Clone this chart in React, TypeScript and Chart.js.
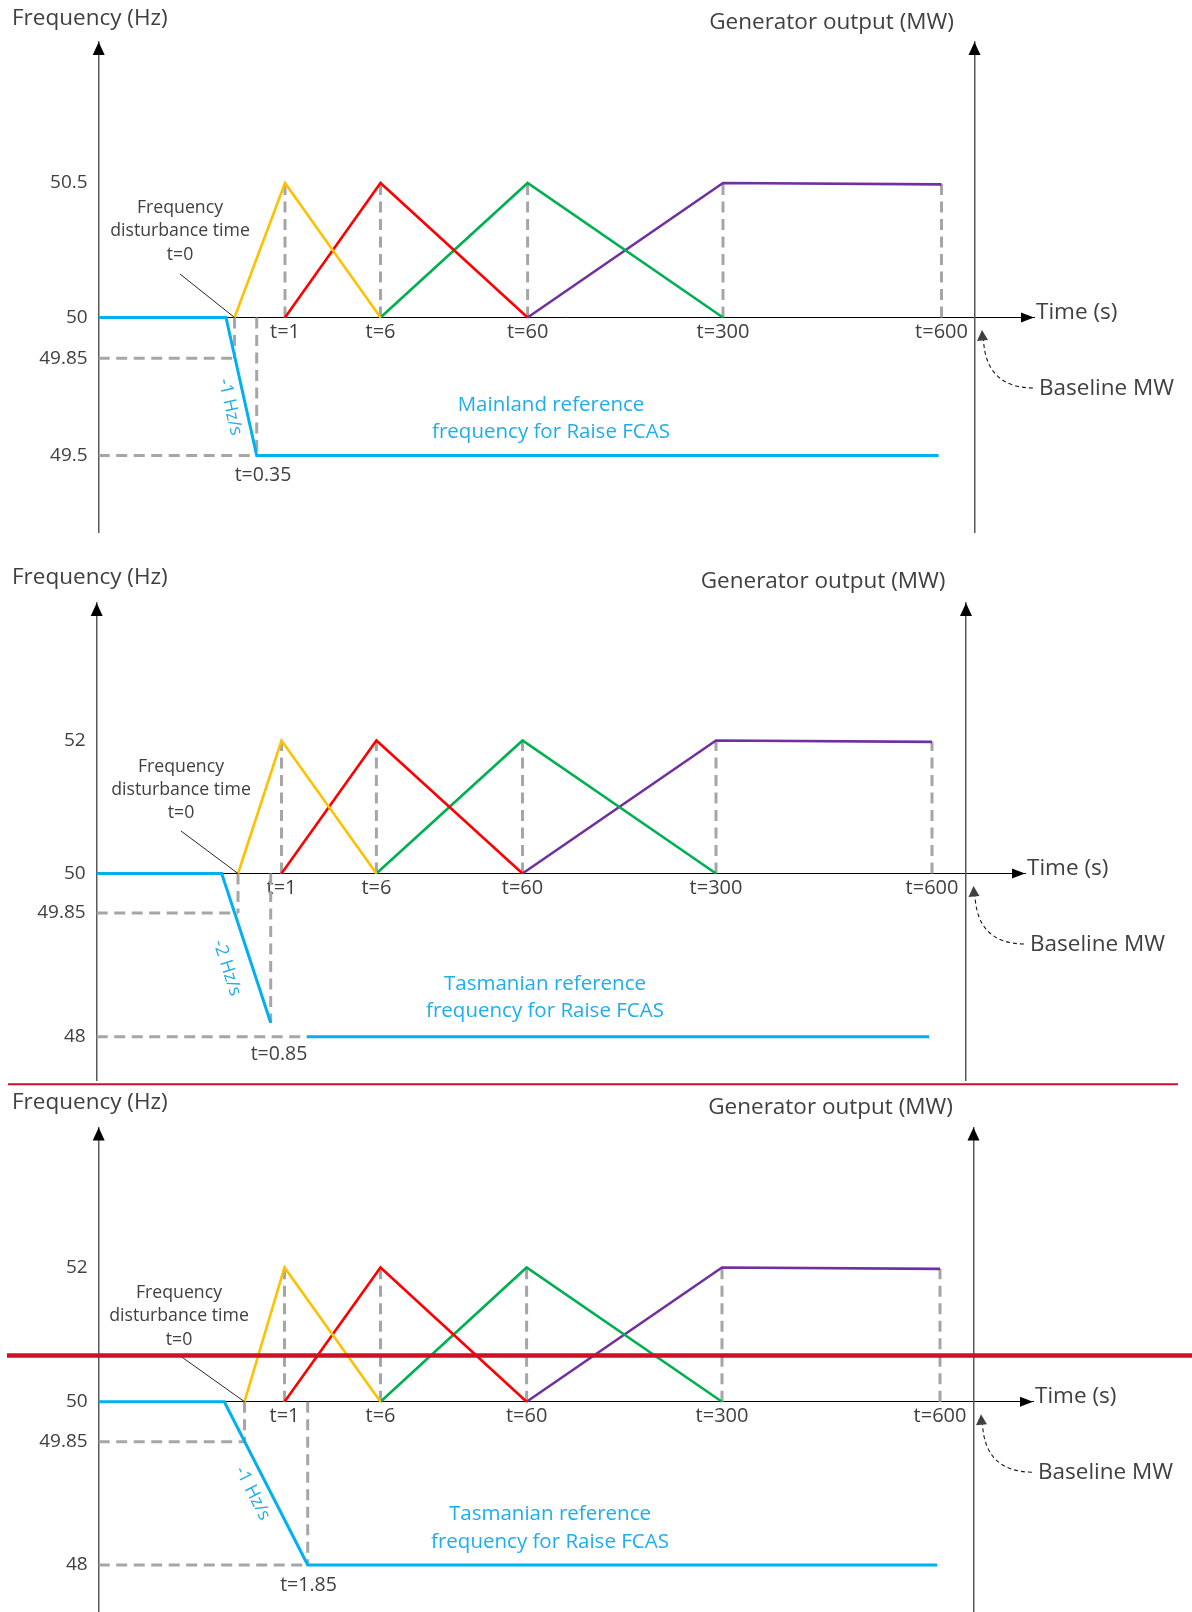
import React, { useEffect, useRef } from 'react';
import { Chart, registerables, LinearScale } from 'chart.js';

// ---------------- DATA ----------------
const nominalHz = 50;
const disturbanceTime = 0; // t=0
const triggerHz = 49.85; // frequency reached at t=0

const responseTimes = [1, 6, 60, 300, 600];
const responseLabels = ['t=1', 't=6', 't=60', 't=300', 't=600'];

// Generator output above baseline (0 = baseline MW, 1 = full raise response)
const veryFastTimes = [0, 1, 6];
const veryFastMW = [0, 1, 0];
const fastTimes = [1, 6, 60];
const fastMW = [0, 1, 0];
const slowTimes = [6, 60, 300];
const slowMW = [0, 1, 0];
const delayedTimes = [60, 300, 600];
const delayedMW = [0, 1, 0.99];

// Mainland reference frequency: -1 Hz/s down to 49.5 Hz
const mainlandTicks = [49.5, 49.85, 50, 50.5];
const mainlandTimes = [-1, -0.15, 0.35, 596];
const mainlandHz = [50, 50, 49.5, 49.5];
const mainlandEnd = [0.35, 49.5];
const mainlandFloor = [0.35, 49.5];

// Tasmanian reference frequency: -2 Hz/s down to 48 Hz
const tas2Ticks = [48, 49.85, 50, 52];
const tas2Times = [-1, -0.075, 0.85, 0.85, 2.33, 596];
const tas2Hz = [50, 50, 48.15, null, 48, 48];
const tas2End = [0.85, 48.15];
const tas2Floor = [2.33, 48];

// Tasmanian reference frequency: -1 Hz/s down to 48 Hz
const tas1Ticks = [48, 49.85, 50, 52];
const tas1Times = [-1, -0.15, 1.85, 596];
const tas1Hz = [50, 50, 48, 48];
const tas1End = [1.85, 48];
const tas1Floor = [1.85, 48];

// ---------------- STYLE / LAYOUT ----------------
const W = 1192;
const H = 1612;
const FONT = '"Open Sans", "Noto Sans", "DejaVu Sans", sans-serif';
const TEXT = '#404040';
const AXIS = '#595959';
const BLUE = '#00B0F0';
const BLUE_TEXT = '#1EAEEB';
const GUIDE = '#A6A6A6';
const RED_RULE = '#CE1126';
const mwAxisTime = 700;

const responseSeries = [
  { t: veryFastTimes, mw: veryFastMW, color: '#FFC000' },
  { t: fastTimes, mw: fastMW, color: '#FF0000' },
  { t: slowTimes, mw: slowMW, color: '#00B050' },
  { t: delayedTimes, mw: delayedMW, color: '#7030A0' },
];

const panels: any[] = [
  {
    times: mainlandTimes, hz: mainlandHz, ticks: mainlandTicks, end: mainlandEnd, floor: mainlandFloor,
    rateLabel: '-1 Hz/s', endLabel: 't=0.35', refLines: ['Mainland reference', 'frequency for Raise FCAS'],
    area: { left: 98.7, right: 1034, top: 42, bottom: 532 },
    xBreaks: [[-1, 98.7], [-0.15, 226], [0, 234.5], [0.35, 256.7], [1, 285], [6, 380.5], [60, 527.6], [300, 723], [600, 941.5], [700, 974.5], [800, 1034]],
    yBreaks: [[49.22, 532], [49.5, 455.5], [49.85, 358.2], [50, 317.5], [50.5, 183], [51.02, 42]],
    mwBreaks: [[0, 317.5], [1, 183]],
    titleY: 18.5, genY: 22.6,
    note: { x: 180, y: [208, 231, 254.5], from: [180, 274] },
    ref: { x: 551, y: [405, 432] },
    endAt: [263, 475],
    rate: { x: 230, y: 407, deg: 77.5 },
    rules: [],
  },
  {
    times: tas2Times, hz: tas2Hz, ticks: tas2Ticks, end: tas2End, floor: tas2Floor,
    rateLabel: '-2 Hz/s', endLabel: 't=0.85', refLines: ['Tasmanian reference', 'frequency for Raise FCAS'],
    area: { left: 96.7, right: 1025, top: 603, bottom: 1080 },
    xBreaks: [[-1, 96.7], [-0.075, 221.7], [0, 238], [0.85, 270.7], [1, 281.5], [6, 376.4], [60, 522.5], [300, 716], [600, 932], [700, 966], [800, 1025]],
    yBreaks: [[47.5, 1080], [48, 1036.7], [48.15, 1022.7], [49.85, 913], [50, 873.5], [52, 740.5], [54.07, 603]],
    mwBreaks: [[0, 873.5], [1, 740.5]],
    titleY: 578, genY: 582,
    note: { x: 181, y: [767, 790, 812.5], from: [181, 831] },
    ref: { x: 545, y: [984, 1011] },
    endAt: [279, 1054],
    rate: { x: 227, y: 968, deg: 72.3 },
    rules: [],
  },
  {
    times: tas1Times, hz: tas1Hz, ticks: tas1Ticks, end: tas1End, floor: tas1Floor,
    rateLabel: '-1 Hz/s', endLabel: 't=1.85', refLines: ['Tasmanian reference', 'frequency for Raise FCAS'],
    area: { left: 98.7, right: 1033, top: 1127.5, bottom: 1612 },
    xBreaks: [[-1, 98.7], [-0.15, 224.3], [0, 244.5], [1, 284.5], [1.85, 307.7], [6, 380.5], [60, 526.6], [300, 722], [600, 940], [700, 973.5], [800, 1033]],
    yBreaks: [[47.29, 1612], [48, 1565], [49.85, 1441.7], [50, 1401.7], [52, 1267.5], [54.1, 1127.5]],
    mwBreaks: [[0, 1401.7], [1, 1267.5]],
    titleY: 1102.5, genY: 1107.7,
    note: { x: 179, y: [1293, 1316, 1340], from: [181, 1356.5] },
    ref: { x: 550, y: [1514, 1541.7] },
    endAt: [308.5, 1585],
    rate: { x: 252.5, y: 1493.3, deg: 63 },
    rules: [
      { x1: 8, x2: 1178, y: 1084.3, w: 2 },
      { x1: 7, x2: 1192, y: 1355.5, w: 4.5 },
    ],
  },
];

// ---------------- SCHEMATIC (not-to-scale) AXIS ----------------
function mapThrough(bp: number[][], a: number, b: number, v: number) {
  const n = bp.length;
  const asc = bp[n - 1][a] > bp[0][a];
  let i = 1;
  while (i < n - 1 && (asc ? v > bp[i][a] : v < bp[i][a])) i++;
  const p = bp[i - 1];
  const q = bp[i];
  return p[b] + ((v - p[a]) * (q[b] - p[b])) / (q[a] - p[a]);
}

class SchematicScale extends LinearScale {
  static id = 'schematic';
  static defaults = {};
  getPixelForValue(value: any) {
    if (value === null || value === undefined || Number.isNaN(+value)) return NaN;
    return mapThrough((this.options as any).breaks, 0, 1, +value);
  }
  getValueForPixel(pixel: number) {
    return mapThrough((this.options as any).breaks, 1, 0, pixel);
  }
}

Chart.register(...registerables, SchematicScale);
Chart.defaults.font.family = FONT;

// ---------------- HELPERS ----------------
const pts = (xs: number[], ys: (number | null)[]) => xs.map((x, i) => ({ x, y: ys[i] }));

function txt(ctx: any, s: string, x: number, y: number, size: number, color: string, align = 'center') {
  ctx.font = `${size}px ${FONT}`;
  ctx.fillStyle = color;
  ctx.textAlign = align;
  ctx.textBaseline = 'middle';
  ctx.fillText(s, x, y);
}

function decor(p: any) {
  return {
    id: 'decor',
    afterDraw(chart: any) {
      const { ctx, chartArea: a, scales } = chart;
      const x = scales.x;
      const y = scales.y;
      const base = y.getPixelForValue(nominalHz);
      const mwX = x.getPixelForValue(mwAxisTime);
      const t0 = x.getPixelForValue(disturbanceTime);
      ctx.save();

      // arrowheads on the axes
      ctx.fillStyle = '#000';
      for (const ax of [a.left, mwX]) {
        ctx.beginPath();
        ctx.moveTo(ax, a.top);
        ctx.lineTo(ax - 6, a.top + 13);
        ctx.lineTo(ax + 6, a.top + 13);
        ctx.closePath();
        ctx.fill();
      }
      ctx.beginPath();
      ctx.moveTo(a.right, base);
      ctx.lineTo(a.right - 13, base - 5);
      ctx.lineTo(a.right - 13, base + 5);
      ctx.closePath();
      ctx.fill();

      // axis titles
      txt(ctx, 'Frequency (Hz)', 12, p.titleY, 22.5, TEXT, 'left');
      txt(ctx, 'Generator output (MW)', mwX - 20.5, p.genY, 22.5, TEXT, 'right');
      txt(ctx, 'Time (s)', a.right + 2, base - 5, 22.5, TEXT, 'left');
      txt(ctx, 'Baseline MW', a.right + 5, base + 71, 22.5, TEXT, 'left');

      // baseline MW pointer
      const tipX = mwX + 7.5;
      const tipY = base + 12.5;
      ctx.strokeStyle = '#1a1a1a';
      ctx.lineWidth = 1.1;
      ctx.setLineDash([4, 3]);
      ctx.beginPath();
      ctx.moveTo(a.right - 1, base + 70.5);
      ctx.quadraticCurveTo(tipX + 4, base + 70, tipX + 1.5, tipY + 10);
      ctx.stroke();
      ctx.setLineDash([]);
      ctx.beginPath();
      ctx.moveTo(tipX, tipY);
      ctx.lineTo(tipX - 5, tipY + 11);
      ctx.lineTo(tipX + 6, tipY + 10);
      ctx.closePath();
      ctx.fill();

      // disturbance note + leader
      const noteLines = ['Frequency', 'disturbance time', 't=0'];
      noteLines.forEach((s, i) => txt(ctx, s, p.note.x, p.note.y[i], 17.7, TEXT));
      ctx.strokeStyle = '#262626';
      ctx.lineWidth = 1;
      ctx.beginPath();
      ctx.moveTo(p.note.from[0], p.note.from[1]);
      ctx.lineTo(t0, base);
      ctx.stroke();

      // reference description
      p.refLines.forEach((s: string, i: number) => txt(ctx, s, p.ref.x, p.ref.y[i], 20.5, BLUE_TEXT));

      // end-of-ramp time label
      txt(ctx, p.endLabel, p.endAt[0], p.endAt[1], 19.5, TEXT);

      // rate of change label along the ramp
      ctx.save();
      ctx.translate(p.rate.x, p.rate.y);
      ctx.rotate((p.rate.deg * Math.PI) / 180);
      txt(ctx, p.rateLabel, 0, 0, 18, BLUE_TEXT);
      ctx.restore();

      // red rules
      for (const r of p.rules) {
        ctx.strokeStyle = RED_RULE;
        ctx.lineWidth = r.w;
        ctx.beginPath();
        ctx.moveTo(r.x1, r.y);
        ctx.lineTo(r.x2, r.y);
        ctx.stroke();
      }
      ctx.restore();
    },
  };
}

function buildConfig(p: any): any {
  const xMin = p.xBreaks[0][0];
  const xMax = p.xBreaks[p.xBreaks.length - 1][0];
  const yMin = p.yBreaks[0][0];
  const yMax = p.yBreaks[p.yBreaks.length - 1][0];

  const peakAt = (t: number) =>
    Math.max(...responseSeries.map((s) => {
      const i = s.t.indexOf(t);
      return i >= 0 ? s.mw[i] : 0;
    }));

  const line = (data: any[], color: string, width: number, extra: any = {}) => ({
    data, borderColor: color, borderWidth: width, pointRadius: 0, pointHoverRadius: 0,
    tension: 0, fill: false, clip: false, spanGaps: false, yAxisID: 'y', ...extra,
  });
  const guide = (data: any[], axis = 'y') =>
    line(data, GUIDE, 3, { borderDash: [11, 6.5], yAxisID: axis, borderCapStyle: 'butt' });

  const datasets = [
    line(pts(p.times, p.hz), BLUE, 3),
    ...responseSeries.map((s) => line(pts(s.t, s.mw), s.color, 2.6, { yAxisID: 'mw' })),
    ...responseTimes.map((t) => guide([{ x: t, y: 0 }, { x: t, y: peakAt(t) }], 'mw')),
    guide([{ x: disturbanceTime, y: nominalHz }, { x: disturbanceTime, y: triggerHz }]),
    guide([{ x: xMin, y: triggerHz }, { x: disturbanceTime, y: triggerHz }]),
    guide([{ x: p.end[0], y: nominalHz }, { x: p.end[0], y: p.end[1] }]),
    guide([{ x: xMin, y: p.floor[1] }, { x: p.floor[0], y: p.floor[1] }]),
  ];

  return {
    type: 'line',
    data: { datasets },
    options: {
      animation: false,
      responsive: false,
      events: [],
      layout: {
        autoPadding: false,
        padding: { left: 0, top: p.area.top, right: W - p.area.right, bottom: H - p.area.bottom },
      },
      plugins: { legend: { display: false }, tooltip: { enabled: false }, title: { display: false } },
      scales: {
        x: {
          type: 'schematic', axis: 'x', position: { y: nominalHz },
          min: xMin, max: xMax, breaks: p.xBreaks,
          grid: { display: false, drawTicks: false },
          border: { display: true, color: '#000', width: 1 },
          ticks: {
            autoSkip: false, maxRotation: 0, padding: 3, color: TEXT,
            font: { family: FONT, size: 20 },
            callback: (_v: any, i: number) => responseLabels[i],
          },
          afterBuildTicks: (s: any) => { s.ticks = responseTimes.map((v) => ({ value: v })); },
          afterFit: (s: any) => { s.paddingLeft = 0; s.paddingRight = 0; },
        },
        y: {
          type: 'schematic', axis: 'y', position: 'left',
          min: yMin, max: yMax, breaks: p.yBreaks,
          grid: { display: false, drawTicks: false },
          border: { display: true, color: AXIS, width: 1.5 },
          ticks: {
            padding: 11, color: TEXT, font: { family: FONT, size: 19 },
            callback: (v: any) => String(v),
          },
          afterBuildTicks: (s: any) => { s.ticks = p.ticks.map((v: number) => ({ value: v })); },
          afterFit: (s: any) => { s.width = p.area.left; s.paddingTop = 0; s.paddingBottom = 0; },
        },
        mw: {
          type: 'schematic', axis: 'y', position: { x: mwAxisTime },
          min: -3, max: 3, breaks: p.mwBreaks,
          grid: { display: false, drawTicks: false },
          border: { display: true, color: AXIS, width: 1.5 },
          ticks: { display: false },
          afterFit: (s: any) => { s.width = 0; s.paddingTop = 0; s.paddingBottom = 0; },
        },
      },
    },
    plugins: [decor(p)],
  };
}

export default function App() {
  const r0 = useRef<HTMLCanvasElement>(null);
  const r1 = useRef<HTMLCanvasElement>(null);
  const r2 = useRef<HTMLCanvasElement>(null);
  const refs = [r0, r1, r2];

  useEffect(() => {
    const charts = panels.map((p, i) => new Chart(refs[i].current as HTMLCanvasElement, buildConfig(p)));
    return () => charts.forEach((c) => c.destroy());
  }, []);

  return (
    <div style={{ position: 'absolute', left: 0, top: 0, width: W, height: H, background: '#fff', overflow: 'hidden' }}>
      {refs.map((r, i) => (
        <canvas key={i} ref={r} width={W} height={H} style={{ position: 'absolute', left: 0, top: 0, width: W, height: H }} />
      ))}
    </div>
  );
}
